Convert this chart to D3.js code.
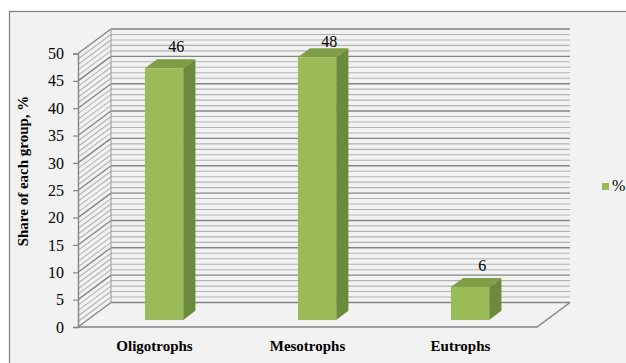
<!DOCTYPE html>
<html>
<head>
<meta charset="utf-8">
<script src="https://cdn.jsdelivr.net/npm/d3@7"></script>
<style>
  html, body { margin: 0; padding: 0; background: #ffffff; }
  svg { display: block; }
  svg text { font-family: "Liberation Serif", "Times New Roman", serif !important; fill: #000; }
</style>
</head>
<body>
<svg id="chart" width="626" height="363"></svg>
<script>
// Share of each trophic group, %
const categories = ["Oligotrophs", "Mesotrophs", "Eutrophs"];
const values = [46, 48, 6];
const seriesName = "%";
const yTicks = [0, 5, 10, 15, 20, 25, 30, 35, 40, 45, 50];

const SERIF = "'Liberation Serif', 'Times New Roman', serif";
const svg = d3.select("#chart");

// Chart panel
svg.append("rect")
  .attr("x", 9.5).attr("y", 11.5)
  .attr("width", 640).attr("height", 370)
  .attr("fill", "#f2f2f2").attr("stroke", "#7f7f7f").attr("stroke-width", 1.2);

// Scales on the front plane
const x = d3.scaleBand().domain(categories).range([78, 537]);
const y = d3.scaleLinear().domain([0, 50]).range([327, 53.5]);

// Oblique depth projection: z in [0,1] from front plane to back wall
const DX = 33, DY = 24.5;
const px = (xv, z) => xv + z * DX;
const py = (yv, z) => yv - z * DY;

const g = svg.append("g");

// Back wall and side wall gridlines, one per unit, darker on every fifth
const gridVals = d3.range(0, 51, 1);
gridVals.forEach(v => {
  const major = v % 5 === 0;
  const col = major ? "#858585" : "#b3b3b3";
  const w = major ? 1.4 : 1.1;
  g.append("line")
    .attr("x1", px(x.range()[0], 1)).attr("y1", py(y(v), 1))
    .attr("x2", px(x.range()[1], 1)).attr("y2", py(y(v), 1))
    .attr("stroke", col).attr("stroke-width", w);
  g.append("line")
    .attr("x1", x.range()[0]).attr("y1", y(v))
    .attr("x2", px(x.range()[0], 1)).attr("y2", py(y(v), 1))
    .attr("stroke", col).attr("stroke-width", w);
});

// Back wall left edge
g.append("line")
  .attr("x1", px(x.range()[0], 1)).attr("y1", py(y(50), 1))
  .attr("x2", px(x.range()[0], 1)).attr("y2", py(y(0), 1))
  .attr("stroke", "#9a9a9a").attr("stroke-width", 1);

// Floor outline
const floor = [
  [x.range()[0], y(0)],
  [x.range()[1], y(0)],
  [px(x.range()[1], 1), py(y(0), 1)]
];
g.append("path")
  .attr("d", d3.line()(floor))
  .attr("fill", "none").attr("stroke", "#858585").attr("stroke-width", 1.4);

// Front value axis
const axis = d3.axisLeft(y).tickValues(yTicks).tickSize(5).tickPadding(9).tickFormat(d3.format("d"));
const ax = svg.append("g").attr("transform", "translate(78,0)").call(axis)
  .attr("font-family", SERIF).attr("font-size", 16);
ax.select(".domain").attr("stroke", "#858585").attr("stroke-width", 1.4);
ax.selectAll(".tick line").attr("stroke", "#858585").attr("stroke-width", 1.2);
ax.selectAll(".tick text").style("font-family", SERIF).style("font-size", "16px").attr("fill", "#000");

// 3D bars
const Z0 = 0.29, Z1 = 0.66;
const barW = x.bandwidth() * 0.25;
const bars = svg.append("g");
categories.forEach((c, i) => {
  const v = values[i];
  const cx = x(c) + x.bandwidth() / 2;
  const xl = cx - barW / 2, xr = cx + barW / 2;
  const yt = y(v), yb = y(0);
  const P = (xx, yy, z) => [px(xx, z), py(yy, z)];
  const front = [P(xl, yt, Z0), P(xr, yt, Z0), P(xr, yb, Z0), P(xl, yb, Z0)];
  const side = [P(xr, yt, Z0), P(xr, yt, Z1), P(xr, yb, Z1), P(xr, yb, Z0)];
  const top = [P(xl, yt, Z0), P(xl, yt, Z1), P(xr, yt, Z1), P(xr, yt, Z0)];
  bars.append("path").attr("d", d3.line()(side) + "Z").attr("fill", "#6c8a3b");
  bars.append("path").attr("d", d3.line()(top) + "Z").attr("fill", "#7f9c47");
  bars.append("path").attr("d", d3.line()(front) + "Z").attr("fill", "#9bbb59");
  // value label, kept inside the plot area near the top
  bars.append("text")
    .attr("x", px(cx, Z1))
    .attr("y", Math.max(py(yt, Z1) - 7, py(y(50), 1) + 18))
    .attr("text-anchor", "middle")
    .style("font-family", SERIF)
    .style("font-size", "16px")
    .text(v);
});

// Category labels
svg.append("g").selectAll("text").data(categories).join("text")
  .attr("x", d => x(d) + x.bandwidth() / 2)
  .attr("y", 351)
  .attr("text-anchor", "middle")
  .style("font-family", SERIF)
  .style("font-size", "15px")
  .style("font-weight", "bold")
  .text(d => d);

// Axis title
svg.append("text")
  .attr("transform", "translate(28,171) rotate(-90)")
  .attr("text-anchor", "middle")
  .style("font-family", SERIF)
  .style("font-size", "15px")
  .style("font-weight", "bold")
  .text("Share of each group, %");

// Legend
svg.append("rect")
  .attr("x", 602).attr("y", 183).attr("width", 7).attr("height", 7)
  .attr("fill", "#9bbb59");
svg.append("text")
  .attr("x", 612).attr("y", 191)
  .style("font-family", SERIF)
  .style("font-size", "16px")
  .text(seriesName);
</script>
</body>
</html>
